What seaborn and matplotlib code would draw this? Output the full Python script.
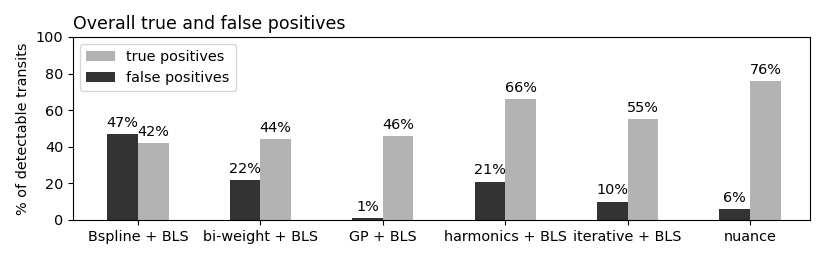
import matplotlib
matplotlib.use("Agg")
import matplotlib.pyplot as plt
import seaborn as sns
import pandas as pd

methods = ["Bspline + BLS", "bi-weight + BLS", "GP + BLS", "harmonics + BLS", "iterative + BLS", "nuance"]
false_pos = [47, 22, 1, 21, 10, 6]
true_pos = [42, 44, 46, 66, 55, 76]
series = ["false positives", "true positives"]
colors = {"false positives": "#333333", "true positives": "#b3b3b3"}

df = pd.DataFrame({
    "method": methods * 2,
    "value": false_pos + true_pos,
    "kind": [series[0]] * len(methods) + [series[1]] * len(methods),
})

fs = 10.4
fig = plt.figure(figsize=(8.3, 2.6), dpi=100)
ax = fig.add_axes([0.088, 0.154, 0.888, 0.704])

sns.barplot(data=df, x="method", y="value", hue="kind", hue_order=series,
            palette=colors, order=methods, width=0.5, dodge=True,
            saturation=1, linewidth=0, errorbar=None, ax=ax, legend=False)

for cont, vals in zip(ax.containers, [false_pos, true_pos]):
    ax.bar_label(cont, labels=[f"{v:.0f}%" for v in vals], padding=3, fontsize=fs)

ax.set_ylim(0, 100)
ax.set_yticks([0, 20, 40, 60, 80, 100])
ax.set_xlim(-0.53, 5.49)
ax.set_xlabel("")
ax.set_ylabel("% of detectable transits", fontsize=fs)
ax.set_title("Overall true and false positives", loc="left", fontsize=12.5)
ax.tick_params(labelsize=fs)
for s in ax.spines.values():
    s.set_linewidth(0.8)

ax.legend(handles=[ax.containers[1], ax.containers[0]], labels=["true positives", "false positives"],
          loc="upper left", fontsize=fs)

fig.savefig("out.png", dpi=100)
